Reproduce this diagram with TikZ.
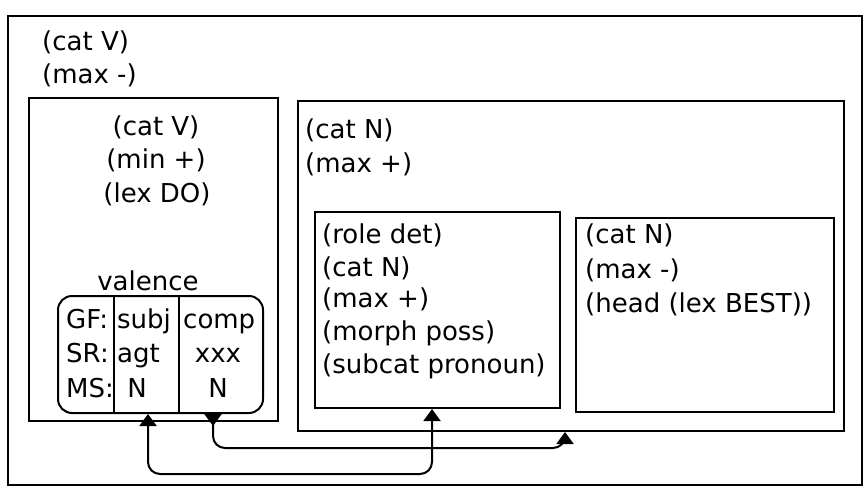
\documentclass[tikz,border=0pt]{standalone}
\usepackage{fontspec}
\setmainfont{DejaVu Sans}
\usetikzlibrary{arrows.meta,calc}
\begin{document}
\begin{tikzpicture}[x=1pt,y=-1pt,
  box/.style={draw, line width=2pt, anchor=north west, inner sep=0pt},
  txt/.style={anchor=base west, inner sep=0pt, font=\fontsize{26}{32}\selectfont},
  ctxt/.style={anchor=base, inner sep=0pt, font=\fontsize{26}{32}\selectfont},
  link/.style={line width=2pt, rounded corners=12pt},
  rule/.style={line width=2pt}
]
\useasboundingbox[fill=white] (0,0) rectangle (866,495);

% boxes
\node[box, minimum width=854pt, minimum height=469pt] (outer) at (7,15) {};
\node[box, minimum width=249pt, minimum height=323pt] (left) at (28,97) {};
\node[box, minimum width=546pt, minimum height=330pt] (mid) at (297,100) {};
\node[box, minimum width=245pt, minimum height=196pt] (det) at (314,211) {};
\node[box, minimum width=258pt, minimum height=194pt] (right) at (575,217) {};
\node[box, rounded corners=14pt, minimum width=205pt, minimum height=117pt] (val) at (57,295) {};

% valence dividers
\draw[rule] ($(val.north west)+(57,0)$) -- ($(val.south west)+(57,0)$);
\draw[rule] ($(val.north west)+(122,0)$) -- ($(val.south west)+(122,0)$);

% outer text
\node[txt] (o1) at (42,50) {(cat V)};
\node[txt] (o2) at (42,83) {(max -)};

% left box text
\node[ctxt] (l1) at (156,135) {(cat V)};
\node[ctxt] (l2) at (156,168) {(min +)};
\node[ctxt] (l3) at (157,202) {(lex DO)};
\node[ctxt] (vl) at (148,290) {valence};

% valence table
\node[txt] (g1) at (66,328) {GF:};
\node[txt] (g2) at (66,362) {SR:};
\node[txt] (g3) at (66,397) {MS:};
\node[txt] (s1) at (117,328) {subj};
\node[txt] (s2) at (117,362) {agt};
\node[ctxt] (s3) at (137,397) {N};
\node[txt] (c1) at (183,328) {comp};
\node[ctxt] (c2) at (218,362) {xxx};
\node[ctxt] (c3) at (218,397) {N};

% middle box text
\node[txt] (m1) at (305,138) {(cat N)};
\node[txt] (m2) at (305,172) {(max +)};

% det box text
\node[txt] (d1) at (322,243) {(role det)};
\node[txt] (d2) at (322,276) {(cat N)};
\node[txt] (d3) at (322,307) {(max +)};
\node[txt] (d4) at (322,340) {(morph poss)};
\node[txt] (d5) at (322,373) {(subcat pronoun)};

% right box text
\node[txt] (r1) at (585,243) {(cat N)};
\node[txt] (r2) at (585,278) {(max -)};
\node[txt] (r3) at (585,312) {(head (lex BEST))};

% connectors
\coordinate (x1) at (148,0);
\coordinate (x2) at (213,0);
\coordinate (b1) at (432,474);
\coordinate (b2) at (565,448);
\draw[link, {Triangle[width=17pt,length=12pt]}-{Triangle[width=17pt,length=12pt]}]
  (val.south -| x1) |- (b1) -- (det.south -| b1);
\draw[link, {Triangle[reversed,width=17pt,length=12pt]}-{Triangle[width=17pt,length=12pt]}]
  (val.south -| x2) |- (b2) -- (mid.south -| b2);
\end{tikzpicture}
\end{document}
